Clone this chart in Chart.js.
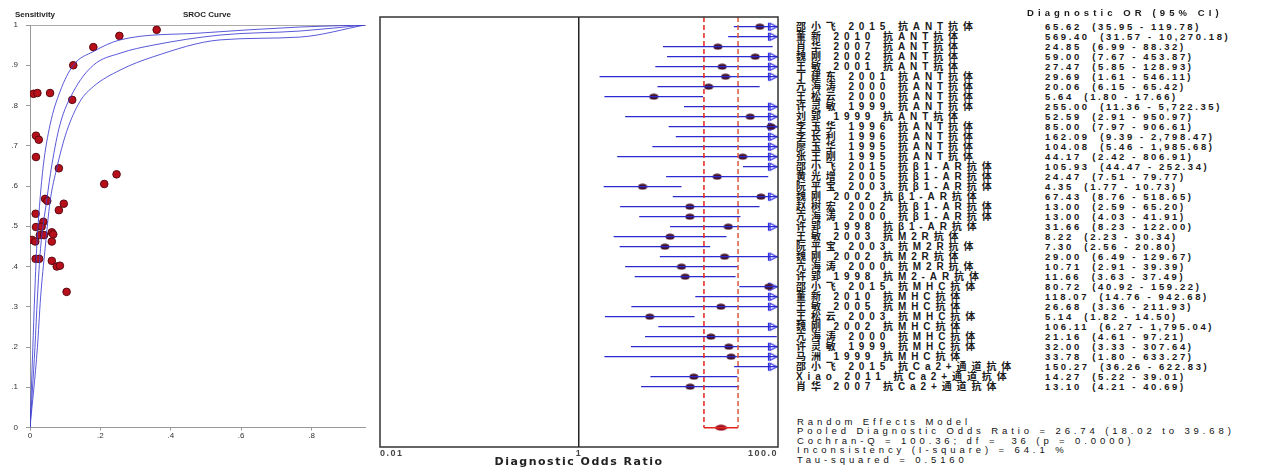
<!DOCTYPE html>
<html>
<head>
<meta charset="utf-8">
<script src="https://cdn.jsdelivr.net/npm/chart.js@4.4.1/dist/chart.umd.min.js"></script>
<style>
  body { margin: 0; background: #fff; width: 1288px; height: 474px; overflow: hidden; position: relative;
         font-family: "Liberation Sans", Arial, "Noto Sans CJK SC", sans-serif; }
  canvas { position: absolute; top: 0; }
  #srocChart { left: 0; }
  #forestChart { left: 370px; }
  .t { position: absolute; white-space: pre; color: #1a1a1a; font-size: 9.5px; line-height: 10px; font-weight: bold; }
  .nm { font-size: 10px; letter-spacing: 4.9px; }
  .val { letter-spacing: 2.6px; }
  .st { letter-spacing: 3.9px; font-weight: normal; color: #111; }
  .hdr { letter-spacing: 4.1px; }
  .ttl { position: absolute; font-size: 8px; font-weight: bold; color: #222; }
</style>
</head>
<body>
<canvas id="srocChart" width="378" height="474"></canvas>
<canvas id="forestChart" width="420" height="474"></canvas>
<div class="ttl" style="left:15px;top:10px">Sensitivity</div>
<div class="ttl" style="left:183px;top:10px">SROC Curve</div>
<div id="textZone"></div>
<script>
// ---- study table ----
const studyNames = [
  '邵小飞 2015 抗ANT抗体', '董新 2010 抗ANT抗体', '肖华 2007 抗ANT抗体', '魏刚 2002 抗ANT抗体',
  '王敏 2001 抗ANT抗体', '丁建东 2001 抗ANT抗体', '亢海涛 2000 抗ANT抗体', '王松云 2000 抗ANT抗体',
  '许灵敏 1999 抗ANT抗体', '刘郢 1999 抗ANT抗体', '李玉华 1996 抗ANT抗体', '李长利 1996 抗ANT抗体',
  '廖玉华 1995 抗ANT抗体', '张王刚 1995 抗ANT抗体', '邵小飞 2015 抗β1-AR抗体', '黄光增 2005 抗β1-AR抗体',
  '阮平宝 2003 抗β1-AR抗体', '魏刚 2002 抗β1-AR抗体', '赵树宏 2002 抗β1-AR抗体', '亢海涛 2000 抗β1-AR抗体',
  '许郢 1998 抗β1-AR抗体', '王敏 2003 抗M2R抗体', '阮平宝 2003 抗M2R抗体', '魏刚 2002 抗M2R抗体',
  '亢海涛 2000 抗M2R抗体', '许郢 1998 抗M2-AR抗体', '邵小飞 2015 抗MHC抗体', '董新 2010 抗MHC抗体',
  '王敏 2005 抗MHC抗体', '王松云 2003 抗MHC抗体', '魏刚 2002 抗MHC抗体', '亢海涛 2000 抗MHC抗体',
  '许灵敏 1999 抗MHC抗体', '马洲 1999 抗MHC抗体', '邵小飞 2015 抗Ca2+通道抗体', 'Xiao 2011 抗Ca2+通道抗体',
  '肖华 2007 抗Ca2+通道抗体'
];
const orValues = [65.62, 569.40, 24.85, 59.00, 27.47, 29.69, 20.06, 5.64, 255.00, 52.59, 85.00, 162.09, 104.08, 44.17,
  105.93, 24.47, 4.35, 67.43, 13.00, 13.00, 31.66, 8.22, 7.30, 29.00, 10.71, 11.66,
  80.72, 118.07, 26.68, 5.14, 106.11, 21.16, 32.00, 33.78, 150.27, 14.27, 13.10];
const ciLower = [35.95, 31.57, 6.99, 7.67, 5.85, 1.61, 6.15, 1.80, 11.36, 2.91, 7.97, 9.39, 5.46, 2.42,
  44.47, 7.51, 1.77, 8.76, 2.59, 4.03, 8.23, 2.23, 2.56, 6.49, 2.91, 3.63,
  40.92, 14.76, 3.36, 1.82, 6.27, 4.61, 3.33, 1.80, 36.26, 5.22, 4.21];
const ciUpper = [119.78, 10270.18, 88.32, 453.87, 128.93, 546.11, 65.42, 17.66, 5722.35, 950.97, 906.61, 2798.47, 1985.68, 806.91,
  252.34, 79.77, 10.73, 518.65, 65.20, 41.91, 122.00, 30.34, 20.80, 129.67, 39.39, 37.49,
  159.22, 942.68, 211.93, 14.50, 1795.04, 97.21, 307.64, 633.27, 622.83, 39.01, 40.69];
const pooledOr = 26.74, pooledLo = 18.02, pooledHi = 39.68;
const statLines = [
  'Random Effects Model',
  'Pooled Diagnostic Odds Ratio = 26.74 (18.02 to 39.68)',
  'Cochran-Q = 100.36; df =  36 (p = 0.0000)',
  'Inconsistency (I-square) = 64.1 %',
  'Tau-squared = 0.5160'
];
const forestTicks = [0.01, 1, 100];
const forestTickLabels = ['0.01', '1', '100.0'];

// ---- SROC panel (1-specificity, sensitivity) ----
const studyFpr = [0.36, 0.254, 0.18, 0.123, 0.010, 0.021, 0.057, 0.12, 0.017, 0.025, 0.017, 0.082, 0.246, 0.211,
  0.043, 0.049, 0.096, 0.082, 0.016, 0.017, 0.038, 0.033, 0.028, 0.040, 0.062, 0.066, 0.062, 0.006, 0.015,
  0.016, 0.026, 0.062, 0.076, 0.085, 0.104];
const studySens = [0.988, 0.973, 0.945, 0.90, 0.829, 0.831, 0.831, 0.814, 0.725, 0.715, 0.672, 0.644, 0.629, 0.605,
  0.568, 0.563, 0.556, 0.54, 0.531, 0.498, 0.511, 0.499, 0.478, 0.478, 0.485, 0.48, 0.462, 0.466, 0.462,
  0.419, 0.419, 0.414, 0.40, 0.402, 0.337];
const srocUpperFpr = [0, 0.008, 0.013, 0.019, 0.028, 0.038, 0.057, 0.085, 0.123, 0.18, 0.256, 0.483, 0.767, 0.952];
const srocUpperSens = [0, 0.198, 0.322, 0.445, 0.561, 0.652, 0.752, 0.834, 0.90, 0.934, 0.963, 0.98, 0.995, 1.0];
const srocMidFpr = [0, 0.014, 0.021, 0.030, 0.047, 0.062, 0.085, 0.123, 0.18, 0.256, 0.35, 0.54, 0.767, 0.952];
const srocMidSens = [0, 0.198, 0.322, 0.445, 0.561, 0.652, 0.752, 0.834, 0.90, 0.93, 0.95, 0.975, 0.985, 1.0];
const srocLowFpr = [0, 0.021, 0.030, 0.043, 0.057, 0.076, 0.104, 0.142, 0.18, 0.256, 0.35, 0.54, 0.767, 0.952];
const srocLowSens = [0, 0.198, 0.322, 0.445, 0.561, 0.644, 0.735, 0.81, 0.847, 0.888, 0.921, 0.963, 0.97, 1.0];

const toPoints = (xs, ys) => xs.map((x, i) => ({x: x, y: ys[i]}));
const fmtTick = v => v === 0 ? '0' : v === 1 ? '1' : String(Math.round(v * 10) / 10).replace('0.', '.');

const curveStyle = {showLine: true, pointRadius: 0, borderWidth: 1, cubicInterpolationMode: 'monotone', borderColor: 'rgba(60,60,210,0.85)'};

new Chart(document.getElementById('srocChart'), {
  type: 'scatter',
  data: {
    datasets: [
      {...curveStyle, data: toPoints(srocUpperFpr, srocUpperSens)},
      {...curveStyle, data: toPoints(srocMidFpr, srocMidSens)},
      {...curveStyle, data: toPoints(srocLowFpr, srocLowSens)},
      {data: toPoints(studyFpr, studySens), pointRadius: 3.8, backgroundColor: '#b8101a', borderColor: '#5a0810', borderWidth: 1}
    ]
  },
  options: {
    responsive: false, animation: false,
    plugins: {legend: {display: false}, tooltip: {enabled: false}},
    layout: {padding: {top: 25, right: 13, left: 0, bottom: 0}},
    scales: {
      x: {
        type: 'linear', min: 0, max: 0.952,
        afterBuildTicks: s => { s.ticks = [0, 0.2, 0.4, 0.6, 0.8].map(v => ({value: v})); },
        ticks: {font: {size: 8}, color: '#333', padding: 0, callback: fmtTick, maxRotation: 0},
        grid: {drawOnChartArea: false, tickLength: 3, color: '#999'},
        border: {color: '#999'},
        afterFit: s => { s.height = 46.5; }
      },
      xTop: {
        axis: 'x', position: 'top', type: 'linear', min: 0, max: 1,
        ticks: {display: false}, grid: {display: false}, border: {color: '#aaa'},
        afterFit: s => { s.height = 0; }
      },
      y: {
        min: 0, max: 1,
        ticks: {stepSize: 0.1, font: {size: 8}, color: '#333', padding: 8, callback: fmtTick},
        grid: {drawOnChartArea: false, tickLength: 4, color: '#999'},
        border: {color: '#999'},
        afterFit: s => { s.width = 30; }
      }
    }
  }
});

// ---- forest plot ----
const AXIS_MAX = forestTicks[forestTicks.length - 1];
const pooledRow = 40.1;
const rowTop = -0.97, rowBottom = 42.03;

function ellipseImg(w, h, fill) {
  const c = document.createElement('canvas');
  c.width = w; c.height = h;
  const g = c.getContext('2d');
  g.fillStyle = fill;
  g.beginPath();
  g.ellipse(w / 2, h / 2, w / 2 - 0.5, h / 2 - 0.5, 0, 0, Math.PI * 2);
  g.fill();
  return c;
}
function arrowImg() {
  // glyph sits left of the centre so it ends on the frame
  const c = document.createElement('canvas');
  c.width = 22; c.height = 10;
  const g = c.getContext('2d');
  g.strokeStyle = '#2a2ae0';
  g.lineWidth = 1.2;
  g.beginPath();
  g.moveTo(1.5, 1); g.lineTo(1.5, 9);
  g.moveTo(3, 1.5); g.lineTo(10, 5); g.lineTo(3, 8.5); g.closePath();
  g.stroke();
  return c;
}

const ciSegments = [];
orValues.forEach((v, i) => {
  ciSegments.push({x: ciLower[i], y: i}, {x: Math.min(ciUpper[i], AXIS_MAX), y: i}, {x: ciLower[i], y: null});
});
const studyPoints = orValues.map((v, i) => ({x: v, y: i})).filter(p => p.x <= AXIS_MAX);
const arrowPoints = ciUpper.map((v, i) => ({x: AXIS_MAX, y: i, hi: v})).filter(p => p.hi > AXIS_MAX);

const framePlugin = {
  id: 'frame',
  beforeDraw(chart) { chart.ctx.letterSpacing = '1.5px'; },
  afterDraw(chart) {
    const {ctx, chartArea: a} = chart;
    ctx.save();
    ctx.strokeStyle = '#333';
    ctx.lineWidth = 1.5;
    ctx.strokeRect(a.left, a.top, a.width, a.height);
    ctx.restore();
  }
};

const dashStyle = {showLine: true, pointRadius: 0, borderColor: '#e3261c', borderWidth: 1.5, borderDash: [5, 3]};

new Chart(document.getElementById('forestChart'), {
  type: 'scatter',
  data: {
    datasets: [
      {...dashStyle, data: [{x: pooledLo, y: rowTop}, {x: pooledLo, y: pooledRow}]},
      {...dashStyle, borderColor: '#dc5a3c', data: [{x: pooledHi, y: rowTop}, {x: pooledHi, y: pooledRow}]},
      {showLine: true, pointRadius: 0, borderColor: '#e3261c', borderWidth: 1.5, data: [{x: pooledLo, y: pooledRow}, {x: pooledHi, y: pooledRow}]},
      {showLine: true, pointRadius: 0, borderColor: '#2a2ad0', borderWidth: 1.3, spanGaps: false, data: ciSegments},
      {data: studyPoints, pointStyle: ellipseImg(10, 7, '#45142c')},
      {data: arrowPoints, pointStyle: arrowImg(), clip: false},
      {data: [{x: pooledOr, y: pooledRow}], pointStyle: ellipseImg(13, 7, '#9a1020')}
    ]
  },
  options: {
    responsive: false, animation: false,
    plugins: {legend: {display: false}, tooltip: {enabled: false}},
    layout: {padding: {left: 10, right: 12, top: 17, bottom: 0}},
    scales: {
      x: {
        type: 'logarithmic', min: forestTicks[0], max: AXIS_MAX,
        afterBuildTicks: s => { s.ticks = forestTicks.map(v => ({value: v})); },
        ticks: {callback: (v, i) => forestTickLabels[i], align: 'inner', autoSkip: false, maxRotation: 0,
                font: {size: 9, family: 'Liberation Sans', weight: 'bold'}, color: '#444', padding: 1},
        grid: {drawTicks: false, lineWidth: 1.5, color: c => (c.tick && c.tick.value === 1) ? '#222' : 'rgba(0,0,0,0)'},
        border: {display: false},
        title: {display: true, text: 'Diagnostic Odds Ratio', color: '#222',
                font: {size: 11, weight: 'bold', family: 'DejaVu Sans'}, padding: {top: 0, bottom: 5}},
        afterFit: s => { s.height = 27; }
      },
      y: {type: 'linear', reverse: true, min: rowTop, max: rowBottom, display: false}
    }
  },
  plugins: [framePlugin]
});

// ---- text columns on the right ----
const fmtNum = v => v.toLocaleString('en-US', {minimumFractionDigits: 2, maximumFractionDigits: 2});
const zone = document.getElementById('textZone');
function addText(txt, left, top, cls) {
  const d = document.createElement('div');
  d.className = 't ' + cls;
  d.style.left = left + 'px';
  d.style.top = top + 'px';
  d.textContent = txt;
  zone.appendChild(d);
}
addText('Diagnostic OR (95% CI)', 1027, 7.5, 'hdr');
studyNames.forEach((name, i) => {
  addText(name, 796, 21.7 + 10 * i, 'nm');
  addText(fmtNum(orValues[i]) + '  (' + fmtNum(ciLower[i]) + ' - ' + fmtNum(ciUpper[i]) + ')', 1045, 21.7 + 10 * i, 'val');
});
statLines.forEach((line, i) => addText(line, 797, 417 + 9.4 * i, 'st'));
</script>
</body>
</html>
